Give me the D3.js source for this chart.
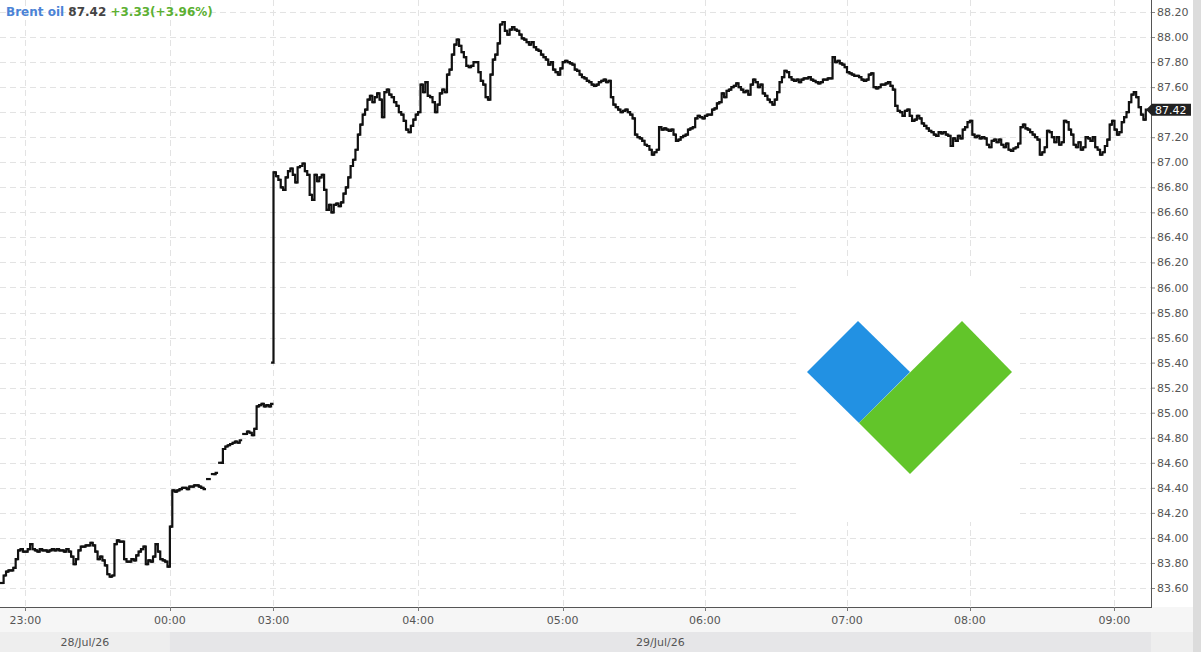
<!DOCTYPE html>
<html>
<head>
<meta charset="utf-8">
<script src="https://cdn.jsdelivr.net/npm/d3@7/dist/d3.min.js"></script>
<style>
  body { margin: 0; background: #fff; }
  svg { display: block; font-family: "DejaVu Sans", sans-serif; }
</style>
</head>
<body>
<svg id="chart" width="1201" height="652"></svg>
<script>
// one-minute closes, one array per hour block (null = no trade that minute)
const seg2250 = [83.64, 83.70, 83.73, 83.74, 83.74, 83.76, 83.83, 83.90, 83.91, 83.89];
const seg2300 = [83.89, 83.91, 83.95, 83.91, 83.90, 83.89, 83.91, 83.90, 83.90, 83.89,
  83.90, 83.91, 83.90, 83.91, 83.90, 83.90, 83.89, 83.91, 83.89, 83.85,
  83.79, 83.83, 83.90, 83.93, 83.93, 83.94, 83.94, 83.96, 83.94, 83.89,
  83.83, 83.85, 83.82, 83.78, 83.71, 83.69, 83.70, 83.95, 83.98, 83.97,
  83.97, 83.83, 83.81, 83.81, 83.83, 83.82, 83.86, 83.89, 83.91, 83.93,
  83.79, 83.82, 83.81, 83.85, 83.95, 83.89, 83.83, 83.82, 83.81, 83.77];
const seg0000 = [84.09, 84.38, 84.37, 84.38, 84.39, 84.40, 84.40, 84.39, 84.41, 84.41,
  84.42, 84.42, 84.41, 84.40, 84.39, null, 84.47, null, 84.51, 84.52,
  null, 84.60, 84.71, 84.73, 84.74, 84.75, 84.76, 84.77, 84.76, 84.78,
  null, 84.83, 84.85, 84.84, 84.82, 84.87, 85.05, 85.06, 85.07, 85.05,
  85.06, 85.05, 85.07];
// first bar after the break: [open, close]
const seg0300 = [[85.40, 86.92], 86.89, 86.86, 86.80, 86.78, 86.88, 86.93, 86.95, 86.90, 86.84,
  86.96, 86.97, 86.99, 86.93, 86.90, 86.74, 86.70, 86.90, 86.85, 86.88,
  86.90, 86.78, 86.62, 86.66, 86.60, 86.66, 86.67, 86.65, 86.68, 86.75,
  86.80, 86.88, 86.97, 87.02, 87.10, 87.22, 87.30, 87.38, 87.42, 87.50,
  87.53, 87.48, 87.52, 87.55, 87.50, 87.36, 87.56, 87.58, 87.54, 87.52,
  87.48, 87.45, 87.40, 87.38, 87.33, 87.26, 87.24, 87.29, 87.34, 87.38];
const seg0400 = [87.40, 87.62, 87.56, 87.64, 87.53, 87.52, 87.48, 87.40, 87.46, 87.55,
  87.58, 87.56, 87.70, 87.74, 87.86, 87.94, 87.98, 87.93, 87.88, 87.84,
  87.77, 87.76, 87.77, 87.80, 87.80, 87.72, 87.65, 87.62, 87.52, 87.50,
  87.70, 87.82, 87.86, 87.95, 88.10, 88.12, 88.05, 88.02, 88.06, 88.08,
  88.06, 88.05, 88.02, 87.99, 87.98, 87.96, 87.94, 87.96, 87.92, 87.90,
  87.89, 87.86, 87.84, 87.82, 87.78, 87.80, 87.74, 87.72, 87.70, 87.75];
const seg0500 = [87.80, 87.81, 87.80, 87.79, 87.78, 87.74, 87.73, 87.70, 87.68, 87.67,
  87.65, 87.64, 87.62, 87.61, 87.62, 87.64, 87.65, 87.66, 87.64, 87.65,
  87.52, 87.46, 87.44, 87.42, 87.40, 87.41, 87.42, 87.40, 87.38, 87.35,
  87.22, 87.20, 87.19, 87.17, 87.14, 87.13, 87.10, 87.06, 87.08, 87.10,
  87.28, 87.26, 87.27, 87.26, 87.25, 87.26, 87.22, 87.17, 87.18, 87.20,
  87.21, 87.22, 87.26, 87.27, 87.28, 87.35, 87.37, 87.36, 87.35];
const seg0600 = [87.37, 87.38, 87.38, 87.42, 87.43, 87.47, 87.48, 87.55, 87.52, 87.57,
  87.58, 87.60, 87.61, 87.63, 87.60, 87.58, 87.56, 87.57, 87.54, 87.62,
  87.66, 87.64, 87.60, 87.62, 87.55, 87.53, 87.50, 87.48, 87.46, 87.50,
  87.56, 87.64, 87.68, 87.73, 87.72, 87.68, 87.66, 87.65, 87.66, 87.64,
  87.66, 87.67, 87.67, 87.68, 87.66, 87.65, 87.64, 87.63, 87.64, 87.66,
  87.66, 87.67, 87.67, 87.84, 87.80, 87.81, 87.79, 87.78, 87.76];
const seg0700 = [87.72, 87.71, 87.70, 87.69, 87.69, 87.68, 87.66, 87.65, 87.66, 87.70,
  87.71, 87.60, 87.59, 87.60, 87.62, 87.62, 87.63, 87.64, 87.61, 87.58,
  87.45, 87.41, 87.40, 87.37, 87.41, 87.42, 87.37, 87.33, 87.34, 87.37,
  87.35, 87.31, 87.29, 87.27, 87.25, 87.24, 87.22, 87.21, 87.24, 87.23,
  87.24, 87.22, 87.21, 87.13, 87.19, 87.17, 87.21, 87.19, 87.26, 87.28, 87.32];
const seg0800 = [87.33, 87.22, 87.20, 87.21, 87.19, 87.20, 87.19, 87.14, 87.12, 87.17,
  87.18, 87.16, 87.18, 87.14, 87.12, 87.15, 87.10, 87.09, 87.11, 87.12,
  87.15, 87.28, 87.30, 87.27, 87.26, 87.24, 87.22, 87.20, 87.18, 87.06,
  87.08, 87.12, 87.25, 87.24, 87.20, 87.16, 87.20, 87.14, 87.16, 87.33,
  87.32, 87.26, 87.22, 87.14, 87.12, 87.16, 87.10, 87.12, 87.20, 87.19,
  87.17, 87.20, 87.12, 87.10, 87.06, 87.08, 87.13, 87.18, 87.30, 87.33];
const seg0900 = [87.26, 87.22, 87.24, 87.32, 87.36, 87.40, 87.48, 87.54, 87.56, 87.52,
  87.44, 87.38, 87.34, 87.42];

const segments = [seg2250, seg2300, seg0000, seg0300, seg0400, seg0500, seg0600, seg0700, seg0800, seg0900];
const hourLabels = ["", "23:00", "00:00", "03:00", "04:00", "05:00", "06:00", "07:00", "08:00", "09:00"];
const dateLabels = ["28/Jul/26", "29/Jul/26"];
const dateStartSeg = [0, 2];
const priceTicks = d3.range(0, 24).map(k => +(83.6 + k * 0.2).toFixed(2));

const title = { name: "Brent oil", last: "87.42", change: "+3.33(+3.96%)" };

// build OHLC-style bars (open = previous close)
const bars = [];
const segStart = [];
let idx = 0, prev = null;
segments.forEach(seg => {
  segStart.push(idx);
  seg.forEach(v => {
    if (v === null) { prev = null; idx++; return; }
    let o, c;
    if (Array.isArray(v)) { o = v[0]; c = v[1]; }
    else { c = v; o = prev === null ? v : prev; }
    bars.push({ i: idx, o, c });
    prev = c;
    idx++;
  });
});
const total = idx;

const W = 1201, H = 652;
const plotR = 1151, plotB = 607;

const svg = d3.select("#chart");
const x = d3.scaleLinear().domain([0, total]).range([0, 1147]);
const y = d3.scaleLinear().domain([83.6, 88.2]).range([588, 12]);

// backgrounds
svg.append("rect").attr("width", W).attr("height", H).attr("fill", "#fff");
svg.append("rect").attr("x", 0).attr("y", plotB).attr("width", 1193).attr("height", H - plotB).attr("fill", "#f6f6f6");
const dateEdges = dateStartSeg.map(s => s === 0 ? 0 : x(segStart[s] + 0.5)).concat([plotR]);
svg.selectAll("rect.dateband").data(dateLabels).join("rect")
  .attr("class", "dateband")
  .attr("x", (d, i) => dateEdges[i])
  .attr("y", 632)
  .attr("width", (d, i) => dateEdges[i + 1] - dateEdges[i])
  .attr("height", 20)
  .attr("fill", (d, i) => i === 0 ? "#eeeeee" : "#e6e6e8");
svg.append("rect").attr("x", plotR).attr("y", 632).attr("width", 1193 - plotR).attr("height", 20).attr("fill", "#eeeeee");
svg.append("rect").attr("x", 1193).attr("y", 0).attr("width", 8).attr("height", H).attr("fill", "#dcdcdc");

// grid
const hourTicks = segStart.map((s, k) => ({ s, label: hourLabels[k] })).filter(d => d.label);
svg.append("g").selectAll("line").data(priceTicks).join("line")
  .attr("x1", 0).attr("x2", plotR)
  .attr("y1", d => Math.round(y(d)) + 0.5).attr("y2", d => Math.round(y(d)) + 0.5)
  .attr("stroke", "#e3e3e3").attr("stroke-dasharray", "6,4");
svg.append("g").selectAll("line").data(hourTicks).join("line")
  .attr("x1", d => Math.round(x(d.s + 0.5)) + 0.5).attr("x2", d => Math.round(x(d.s + 0.5)) + 0.5)
  .attr("y1", 0).attr("y2", plotB)
  .attr("stroke", "#e3e3e3").attr("stroke-dasharray", "6,4");

// watermark
const wm = svg.append("g");
wm.append("rect").attr("x", 800).attr("y", 276).attr("width", 220).attr("height", 246).attr("fill", "#fff");
wm.append("polygon").attr("points", "807,372 858,321 910,372 859,423").attr("fill", "#2291e3");
wm.append("polygon").attr("points", "859,423 962,321 1012,372 910,474").attr("fill", "#62c52a");

// bars
const half = 1.3;
svg.append("g").selectAll("path").data(bars).join("path")
  .attr("d", d => {
    const cx = x(d.i + 0.5);
    return `M${cx - half},${y(d.o)}H${cx}V${y(d.c)}H${cx + half}`;
  })
  .attr("fill", "none")
  .attr("stroke", "#111")
  .attr("stroke-width", 2.2)
  .attr("stroke-linecap", "square");

// last price (the marker covers the tick label beneath it)
const last = bars[bars.length - 1].c;
const ly = y(last);

// right price axis
const yAxis = d3.axisRight(y).tickValues(priceTicks).tickFormat(d3.format(".2f")).tickSize(4).tickPadding(2);
const ya = svg.append("g").attr("transform", `translate(${plotR},0)`).call(yAxis);
ya.select(".domain").remove();
ya.selectAll("line").attr("stroke", "#888");
ya.selectAll("text").attr("fill", "#555").attr("font-size", 11).attr("font-family", "DejaVu Sans");
ya.selectAll(".tick").filter(d => Math.abs(y(d) - ly) < 9).select("text").remove();
svg.append("line").attr("x1", plotR + 0.5).attr("x2", plotR + 0.5).attr("y1", 0).attr("y2", plotB)
  .attr("stroke", "#555");

// bottom time axis
svg.append("line").attr("x1", 0).attr("x2", plotR + 1).attr("y1", plotB + 0.5).attr("y2", plotB + 0.5)
  .attr("stroke", "#555");
const xa = svg.append("g");
xa.selectAll("line").data(hourTicks).join("line")
  .attr("x1", d => Math.round(x(d.s + 0.5)) + 0.5).attr("x2", d => Math.round(x(d.s + 0.5)) + 0.5)
  .attr("y1", plotB).attr("y2", plotB + 4).attr("stroke", "#777");
xa.selectAll("text").data(hourTicks).join("text")
  .attr("x", d => x(d.s + 0.5)).attr("y", 624)
  .attr("text-anchor", "middle").attr("font-size", 11).attr("fill", "#555")
  .text(d => d.label);

// date labels
svg.selectAll("text.date").data(dateLabels).join("text")
  .attr("class", "date")
  .attr("x", (d, i) => (dateEdges[i] + dateEdges[i + 1]) / 2)
  .attr("y", 646)
  .attr("text-anchor", "middle").attr("font-size", 11).attr("fill", "#555")
  .text(d => d);

// last price marker
svg.append("path")
  .attr("d", `M${plotR - 5},${ly}L${plotR + 1},${ly - 6}H1191V${ly + 6}H${plotR + 1}Z`)
  .attr("fill", "#222");
svg.append("text").attr("x", plotR + 4).attr("y", ly).attr("dy", "0.35em")
  .attr("font-size", 11).attr("fill", "#fff").text(d3.format(".2f")(last));

// title
const t = svg.append("text").attr("x", 6).attr("y", 16).attr("font-size", 12).attr("font-weight", "bold");
t.append("tspan").attr("fill", "#4b83d6").text(title.name + " ");
t.append("tspan").attr("fill", "#444").text(title.last + " ");
t.append("tspan").attr("fill", "#5cb032").text(title.change);
</script>
</body>
</html>
